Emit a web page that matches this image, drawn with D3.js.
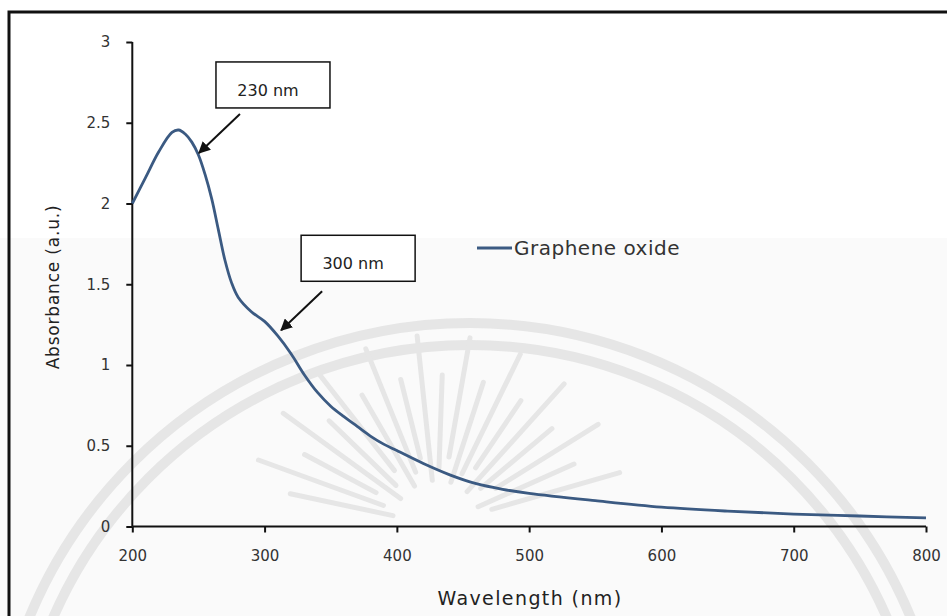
<!DOCTYPE html>
<html>
<head>
<meta charset="utf-8">
<script src="https://cdn.jsdelivr.net/npm/d3@7"></script>
<style>
  body { margin: 0; background: #fff; }
  svg { display: block; }
  .tick text { font-family: "DejaVu Sans", Verdana, sans-serif; font-size: 15px; fill: #333; }
  .axis path, .axis line { stroke: #111; stroke-width: 2; }
</style>
</head>
<body>
<div class="chart"></div>
<script>
// data
const wavelength = [200, 210, 220, 230, 235, 240, 245, 250, 255, 260, 265, 270, 275, 280, 290, 300, 310, 320, 330,
    340, 350, 360, 370, 380, 390, 400, 420, 440, 460, 480, 500, 550, 600, 650, 700, 750, 800];
const absorbance = [2.00, 2.16, 2.32, 2.44, 2.455, 2.43, 2.38, 2.30, 2.18, 2.03, 1.84, 1.65, 1.51, 1.42, 1.33, 1.27, 1.18, 1.07, 0.94,
    0.83, 0.745, 0.68, 0.62, 0.56, 0.51, 0.47, 0.39, 0.32, 0.265, 0.23, 0.205, 0.16, 0.12, 0.095, 0.077, 0.065, 0.053];
const xTicks = [200, 300, 400, 500, 600, 700, 800];
const yTicks = [0, 0.5, 1, 1.5, 2, 2.5, 3];
const seriesName = "Graphene oxide";
const notes = [
    { label: "230 nm", wl: 250.4, v: 2.313, bx: 17, by: -91 },
    { label: "300 nm", wl: 312.5, v: 1.215, bx: 20, by: -95 }
];

const W = 947, H = 616;
const margin = { top: 42, right: 21, bottom: 89.5, left: 132.3 };

const svg = d3.select(".chart").append("svg")
    .attr("width", W)
    .attr("height", H);

// background tint + faint watermark
svg.append("rect").attr("x", 0).attr("y", 238).attr("width", W).attr("height", H - 238).attr("fill", "#fafafa");
const wm = svg.append("g").attr("fill", "none").attr("stroke", "#e6e6e6");
[477, 455].forEach(r => {
    wm.append("circle").attr("cx", 470).attr("cy", 800).attr("r", r).attr("stroke-width", 10);
});
d3.range(-168, -10, 8).forEach((a, i) => {
    const t = a * Math.PI / 180;
    const r0 = 45 + (i % 3) * 12, r1 = 150 + (i % 2) * 40;
    wm.append("line")
        .attr("x1", 437 + r0 * Math.cos(t)).attr("y1", 525 + r0 * Math.sin(t))
        .attr("x2", 437 + r1 * Math.cos(t)).attr("y2", 525 + r1 * Math.sin(t))
        .attr("stroke-width", 5).attr("stroke-linecap", "round");
});

// outer frame
svg.append("rect")
    .attr("x", 9).attr("y", 12)
    .attr("width", W + 10).attr("height", H + 10)
    .attr("fill", "none").attr("stroke", "#111").attr("stroke-width", 3);

const x = d3.scaleLinear().domain([200, 800]).range([margin.left, W - margin.right]);
const y = d3.scaleLinear().domain([0, 3]).range([H - margin.bottom, margin.top]);

svg.append("g")
    .attr("class", "axis")
    .attr("transform", `translate(0, ${y(0)})`)
    .call(d3.axisBottom(x).tickValues(xTicks).tickSize(6).tickPadding(18).tickSizeOuter(0))
    .call(g => g.select(".domain").attr("d", `M${x(200)},0H${x(800)}`));

svg.append("g")
    .attr("class", "axis")
    .attr("transform", `translate(${x(200)}, 0)`)
    .call(d3.axisLeft(y).tickValues(yTicks).tickFormat(d => d).tickSize(6).tickPadding(16).tickSizeOuter(0))
    .call(g => g.select(".domain").attr("d", `M0,${y(0)}V${y(3)}`));

// axis titles
svg.append("text")
    .attr("x", 530).attr("y", 605)
    .attr("text-anchor", "middle")
    .style("font-family", "DejaVu Sans, sans-serif").style("font-size", "19px")
    .style("letter-spacing", "1.4px").style("fill", "#222")
    .text("Wavelength (nm)");

svg.append("text")
    .attr("transform", "translate(59, 287) rotate(-90)")
    .attr("text-anchor", "middle")
    .style("font-family", "DejaVu Sans, sans-serif").style("font-size", "17px")
    .style("letter-spacing", "0.8px").style("fill", "#222")
    .text("Absorbance (a.u.)");

// series line
const lineGen = d3.line()
    .x((d, i) => x(wavelength[i]))
    .y(d => y(d))
    .curve(d3.curveCatmullRom.alpha(0.5));

svg.append("path")
    .datum(absorbance)
    .attr("fill", "none")
    .attr("stroke", "#3b5a82")
    .attr("stroke-width", 2.8)
    .attr("d", lineGen);

// legend
svg.append("line")
    .attr("x1", 477).attr("x2", 512).attr("y1", 248).attr("y2", 248)
    .attr("stroke", "#3b5a82").attr("stroke-width", 2.8);
svg.append("text")
    .attr("x", 514).attr("y", 255)
    .style("font-family", "DejaVu Sans, sans-serif").style("font-size", "20px")
    .style("letter-spacing", "0.5px").style("fill", "#333")
    .text(seriesName);

// annotations
svg.append("defs").append("marker")
    .attr("id", "arrow")
    .attr("viewBox", "0 0 10 10")
    .attr("refX", 9).attr("refY", 5)
    .attr("markerWidth", 6).attr("markerHeight", 6)
    .attr("markerUnits", "strokeWidth")
    .attr("orient", "auto")
    .append("path").attr("d", "M0,0L10,5L0,10Z").attr("fill", "#111");

notes.forEach(n => {
    const tx = x(n.wl), ty = y(n.v);
    svg.append("line")
        .attr("x1", tx + 41).attr("y1", ty - 39)
        .attr("x2", tx).attr("y2", ty)
        .attr("stroke", "#111").attr("stroke-width", 2)
        .attr("marker-end", "url(#arrow)");
    svg.append("rect")
        .attr("x", tx + n.bx).attr("y", ty + n.by)
        .attr("width", 114).attr("height", 46)
        .attr("fill", "#fff").attr("stroke", "#111").attr("stroke-width", 1.5);
    svg.append("text")
        .attr("x", tx + n.bx + 52).attr("y", ty + n.by + 34)
        .attr("text-anchor", "middle")
        .style("font-family", "DejaVu Sans, sans-serif").style("font-size", "16px").style("fill", "#222")
        .text(n.label);
});
</script>
</body>
</html>
